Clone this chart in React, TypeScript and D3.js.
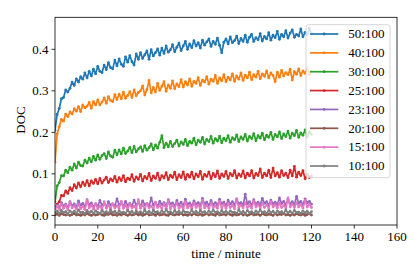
import * as d3 from 'd3';

// time axis: one reading per minute, 0..120
const minutes = d3.range(0, 121);

const series50 = [
  0.205, 0.243, 0.258, 0.281, 0.284, 0.302, 0.297, 0.306, 0.321, 0.313, 0.329, 0.321, 0.334, 0.328, 0.343, 0.331, 0.347, 0.336, 0.352, 0.341,
  0.359, 0.347, 0.344, 0.362, 0.351, 0.368, 0.356, 0.353, 0.374, 0.36, 0.377, 0.364, 0.359, 0.382, 0.369, 0.385, 0.37, 0.362, 0.389, 0.376,
  0.392, 0.378, 0.387, 0.396, 0.376, 0.399, 0.384, 0.392, 0.401, 0.386, 0.403, 0.39, 0.408, 0.393, 0.399, 0.411, 0.394, 0.405, 0.415, 0.397,
  0.408, 0.419, 0.4, 0.413, 0.404, 0.421, 0.408, 0.416, 0.403, 0.422, 0.41, 0.418, 0.425, 0.407, 0.419, 0.412, 0.427, 0.41, 0.392, 0.417,
  0.425, 0.413, 0.43, 0.416, 0.421, 0.432, 0.414, 0.426, 0.419, 0.434, 0.417, 0.429, 0.436, 0.419, 0.428, 0.423, 0.438, 0.42, 0.431, 0.425,
  0.44, 0.422, 0.434, 0.428, 0.443, 0.424, 0.436, 0.43, 0.445, 0.427, 0.439, 0.447, 0.429, 0.436, 0.432, 0.449, 0.43, 0.441, 0.435, 0.451, 0.438,
];

const series40 = [
  0.128, 0.196, 0.214, 0.231, 0.227, 0.244, 0.238, 0.249, 0.244, 0.257, 0.251, 0.262, 0.25, 0.266, 0.259, 0.263, 0.272, 0.258, 0.274, 0.266,
  0.278, 0.266, 0.273, 0.283, 0.27, 0.286, 0.277, 0.274, 0.291, 0.279, 0.292, 0.281, 0.297, 0.282, 0.289, 0.298, 0.284, 0.302, 0.288, 0.296,
  0.3, 0.312, 0.29, 0.303, 0.325, 0.295, 0.308, 0.297, 0.318, 0.301, 0.311, 0.322, 0.299, 0.314, 0.306, 0.324, 0.305, 0.317, 0.31, 0.327,
  0.309, 0.322, 0.314, 0.329, 0.311, 0.323, 0.318, 0.332, 0.313, 0.326, 0.321, 0.334, 0.316, 0.328, 0.323, 0.337, 0.318, 0.331, 0.324, 0.339,
  0.322, 0.333, 0.326, 0.341, 0.323, 0.336, 0.328, 0.343, 0.325, 0.338, 0.331, 0.345, 0.327, 0.339, 0.333, 0.347, 0.329, 0.341, 0.335, 0.348,
  0.331, 0.343, 0.337, 0.322, 0.345, 0.333, 0.349, 0.336, 0.344, 0.339, 0.352, 0.326, 0.346, 0.34, 0.353, 0.337, 0.348, 0.342, 0.355, 0.339, 0.347,
];

const series30 = [
  0.032, 0.071, 0.079, 0.096, 0.095, 0.109, 0.103, 0.116, 0.109, 0.124, 0.114, 0.128, 0.12, 0.119, 0.133, 0.126, 0.138, 0.129, 0.142, 0.133,
  0.146, 0.135, 0.144, 0.149, 0.137, 0.153, 0.143, 0.14, 0.157, 0.146, 0.158, 0.148, 0.162, 0.149, 0.155, 0.164, 0.151, 0.166, 0.153, 0.16,
  0.165, 0.154, 0.168, 0.157, 0.163, 0.172, 0.158, 0.17, 0.162, 0.176, 0.192, 0.163, 0.174, 0.165, 0.178, 0.166, 0.173, 0.181, 0.167, 0.177,
  0.171, 0.183, 0.168, 0.178, 0.174, 0.186, 0.17, 0.181, 0.176, 0.188, 0.172, 0.183, 0.178, 0.19, 0.174, 0.185, 0.179, 0.191, 0.175, 0.186,
  0.18, 0.192, 0.176, 0.187, 0.182, 0.194, 0.178, 0.189, 0.183, 0.195, 0.179, 0.19, 0.185, 0.197, 0.18, 0.192, 0.186, 0.198, 0.182, 0.193,
  0.188, 0.2, 0.183, 0.195, 0.189, 0.201, 0.185, 0.196, 0.19, 0.203, 0.186, 0.198, 0.192, 0.205, 0.188, 0.199, 0.193, 0.206, 0.189, 0.201, 0.195,
];

const series25 = [
  0.018, 0.027, 0.033, 0.048, 0.047, 0.059, 0.053, 0.067, 0.06, 0.074, 0.066, 0.078, 0.069, 0.08, 0.072, 0.084, 0.071, 0.083, 0.077, 0.087,
  0.076, 0.089, 0.078, 0.085, 0.092, 0.079, 0.088, 0.083, 0.094, 0.08, 0.091, 0.084, 0.096, 0.081, 0.09, 0.086, 0.098, 0.082, 0.093, 0.087,
  0.099, 0.083, 0.094, 0.088, 0.101, 0.084, 0.095, 0.089, 0.102, 0.085, 0.096, 0.09, 0.103, 0.086, 0.097, 0.091, 0.104, 0.086, 0.098, 0.091,
  0.105, 0.087, 0.099, 0.092, 0.104, 0.088, 0.1, 0.093, 0.106, 0.087, 0.099, 0.094, 0.105, 0.088, 0.101, 0.093, 0.107, 0.089, 0.1, 0.094,
  0.106, 0.089, 0.101, 0.095, 0.108, 0.09, 0.1, 0.094, 0.107, 0.09, 0.102, 0.095, 0.108, 0.09, 0.101, 0.096, 0.112, 0.091, 0.102, 0.095,
  0.109, 0.091, 0.114, 0.095, 0.103, 0.092, 0.108, 0.096, 0.102, 0.091, 0.109, 0.095, 0.118, 0.092, 0.104, 0.096, 0.108, 0.088, 0.099, 0.091, 0.095,
];

const series23 = [
  0.02, 0.024, 0.018, 0.031, 0.022, 0.027, 0.019, 0.033, 0.023, 0.028, 0.02, 0.035, 0.024, 0.029, 0.021, 0.038, 0.025, 0.03, 0.021, 0.027,
  0.022, 0.036, 0.024, 0.029, 0.02, 0.033, 0.025, 0.028, 0.022, 0.04, 0.026, 0.03, 0.021, 0.034, 0.024, 0.029, 0.022, 0.037, 0.025, 0.031,
  0.022, 0.035, 0.026, 0.029, 0.021, 0.042, 0.025, 0.03, 0.023, 0.034, 0.026, 0.031, 0.022, 0.038, 0.027, 0.03, 0.023, 0.036, 0.025, 0.032,
  0.023, 0.039, 0.026, 0.03, 0.024, 0.035, 0.027, 0.031, 0.023, 0.041, 0.027, 0.032, 0.024, 0.036, 0.026, 0.031, 0.024, 0.039, 0.028, 0.032,
  0.024, 0.037, 0.027, 0.033, 0.025, 0.04, 0.028, 0.031, 0.024, 0.051, 0.028, 0.033, 0.025, 0.038, 0.027, 0.032, 0.025, 0.041, 0.029, 0.033,
  0.025, 0.037, 0.028, 0.032, 0.026, 0.042, 0.029, 0.034, 0.025, 0.039, 0.028, 0.033, 0.026, 0.046, 0.029, 0.034, 0.026, 0.04, 0.03, 0.034, 0.027,
];

const series20 = [
  0.001, 0.003, 0.0, 0.004, 0.002, 0.001, 0.003, 0.0, 0.002, 0.004, 0.001, 0.002, 0.0, 0.003, 0.001, 0.005, 0.002, 0.0, 0.003, 0.001,
  0.002, 0.004, 0.001, 0.0, 0.003, 0.002, 0.005, 0.001, 0.002, 0.0, 0.003, 0.001, 0.004, 0.002, 0.0, 0.003, 0.001, 0.002, 0.004, 0.001,
  0.003, 0.0, 0.002, 0.005, 0.001, 0.002, 0.003, 0.0, 0.004, 0.001, 0.002, 0.003, 0.001, 0.0, 0.004, 0.002, 0.001, 0.003, 0.002, 0.005,
  0.001, 0.002, 0.0, 0.003, 0.001, 0.004, 0.002, 0.001, 0.003, 0.0, 0.002, 0.004, 0.001, 0.003, 0.002, 0.0, 0.005, 0.001, 0.002, 0.003,
  0.001, 0.004, 0.002, 0.0, 0.003, 0.001, 0.002, 0.005, 0.001, 0.003, 0.0, 0.002, 0.004, 0.001, 0.002, 0.003, 0.0, 0.004, 0.002, 0.001,
  0.003, 0.002, 0.0, 0.004, 0.001, 0.003, 0.002, 0.005, 0.001, 0.002, 0.0, 0.003, 0.001, 0.004, 0.002, 0.001, 0.003, 0.0, 0.002, 0.004, 0.001,
];

const series15 = [
  0.015, 0.022, 0.014, 0.028, 0.017, 0.024, 0.013, 0.031, 0.018, 0.023, 0.015, 0.027, 0.016, 0.021, 0.014, 0.036, 0.018, 0.024, 0.015, 0.029,
  0.016, 0.022, 0.014, 0.033, 0.017, 0.025, 0.015, 0.028, 0.018, 0.023, 0.016, 0.034, 0.017, 0.024, 0.015, 0.027, 0.018, 0.022, 0.016, 0.038,
  0.017, 0.025, 0.016, 0.029, 0.018, 0.023, 0.015, 0.032, 0.019, 0.024, 0.016, 0.028, 0.017, 0.036, 0.016, 0.025, 0.018, 0.03, 0.017, 0.023,
  0.016, 0.033, 0.018, 0.024, 0.017, 0.029, 0.019, 0.025, 0.016, 0.037, 0.018, 0.024, 0.017, 0.03, 0.019, 0.023, 0.017, 0.034, 0.018, 0.026,
  0.017, 0.029, 0.019, 0.024, 0.016, 0.039, 0.019, 0.025, 0.018, 0.031, 0.019, 0.024, 0.017, 0.035, 0.02, 0.026, 0.018, 0.029, 0.019, 0.025,
  0.018, 0.033, 0.02, 0.026, 0.018, 0.03, 0.019, 0.025, 0.018, 0.042, 0.02, 0.027, 0.019, 0.031, 0.02, 0.026, 0.018, 0.036, 0.02, 0.027, 0.019,
];

const series10 = [
  0.006, 0.01, 0.004, 0.012, 0.007, 0.009, 0.003, 0.011, 0.006, 0.01, 0.005, 0.013, 0.007, 0.008, 0.004, 0.012, 0.006, 0.01, 0.005, 0.011,
  0.007, 0.004, 0.012, 0.006, 0.009, 0.005, 0.013, 0.007, 0.01, 0.004, 0.011, 0.006, 0.008, 0.005, 0.012, 0.007, 0.01, 0.004, 0.011, 0.006,
  0.009, 0.005, 0.013, 0.006, 0.01, 0.004, 0.012, 0.007, 0.009, 0.005, 0.011, 0.006, 0.014, 0.007, 0.009, 0.004, 0.012, 0.006, 0.01, 0.005,
  0.011, 0.007, 0.008, 0.005, 0.013, 0.006, 0.01, 0.004, 0.012, 0.007, 0.009, 0.005, 0.011, 0.006, 0.013, 0.007, 0.009, 0.004, 0.012, 0.006,
  0.01, 0.005, 0.011, 0.007, 0.008, 0.005, 0.014, 0.006, 0.01, 0.004, 0.012, 0.007, 0.009, 0.005, 0.011, 0.006, 0.013, 0.007, 0.009, 0.005,
  0.012, 0.006, 0.01, 0.004, 0.011, 0.007, 0.009, 0.005, 0.013, 0.006, 0.01, 0.005, 0.012, 0.007, 0.008, 0.005, 0.011, 0.006, 0.01, 0.004, 0.009,
];

const labels = ['50:100', '40:100', '30:100', '25:100', '23:100', '20:100', '15:100', '10:100'];
const allSeries = [series50, series40, series30, series25, series23, series20, series15, series10];
const colors = ['#1f77b4', '#ff7f0e', '#2ca02c', '#d62728', '#9467bd', '#8c564b', '#e377c2', '#7f7f7f'];

const xTicks = [0, 20, 40, 60, 80, 100, 120, 140, 160];
const yTicks = [0.0, 0.1, 0.2, 0.3, 0.4];

const W = 415;
const H = 277;
const plot = { left: 55, right: 397, top: 17.3, bottom: 225 };
const txt = { fontFamily: "'Liberation Serif', 'Times New Roman', serif", fontSize: '13px', fill: '#000' };

export default function App() {
  const x = d3.scaleLinear().domain([0, 160]).range([plot.left, plot.right]);
  const y = d3.scaleLinear().domain([-0.0231, 0.4771]).range([plot.bottom, plot.top]);

  const line = d3
    .line<number>()
    .x((_, i) => x(minutes[i]))
    .y((d) => y(d));

  const legendX = 306;
  const legendY = 24.7;
  const rowH = 18.86;

  return (
    <svg width={W} height={H} style={{ position: 'absolute', left: 0, top: 0, background: '#fff' }}>
      <defs>
        <clipPath id="plotClip">
          <rect x={plot.left} y={plot.top} width={plot.right - plot.left} height={plot.bottom - plot.top} />
        </clipPath>
      </defs>

      {/* series */}
      <g clipPath="url(#plotClip)">
        {allSeries.map((s, k) => (
          <g key={labels[k]}>
            <path d={line(s) ?? ''} fill="none" stroke={colors[k]} strokeWidth={1.7} strokeLinejoin="round" />
            {s.map((v, i) => (
              <circle key={i} cx={x(minutes[i])} cy={y(v)} r={1.4} fill={colors[k]} />
            ))}
          </g>
        ))}
      </g>

      {/* spines */}
      <rect
        x={plot.left}
        y={plot.top}
        width={plot.right - plot.left}
        height={plot.bottom - plot.top}
        fill="none"
        stroke="#000"
        strokeWidth={0.8}
      />

      {/* x axis */}
      {xTicks.map((t) => (
        <g key={`x${t}`}>
          <line x1={x(t)} x2={x(t)} y1={plot.bottom} y2={plot.bottom + 3.5} stroke="#000" strokeWidth={0.8} />
          <text x={x(t)} y={240.5} textAnchor="middle" style={txt}>
            {t}
          </text>
        </g>
      ))}
      <text x={(plot.left + plot.right) / 2} y={258} textAnchor="middle" style={txt}>
        time / minute
      </text>

      {/* y axis */}
      {yTicks.map((t) => (
        <g key={`y${t}`}>
          <line x1={plot.left - 3.5} x2={plot.left} y1={y(t)} y2={y(t)} stroke="#000" strokeWidth={0.8} />
          <text x={48.5} y={y(t)} dy="0.33em" textAnchor="end" style={txt}>
            {t.toFixed(1)}
          </text>
        </g>
      ))}
      <text transform="translate(25,120) rotate(-90)" textAnchor="middle" style={txt}>
        DOC
      </text>

      {/* legend */}
      <rect
        x={legendX}
        y={legendY}
        width={84}
        height={153}
        rx={2.5}
        fill="#fff"
        fillOpacity={0.8}
        stroke="#cccccc"
        strokeWidth={0.8}
      />
      {labels.map((lab, k) => {
        const cy = 34 + k * rowH;
        return (
          <g key={`leg${lab}`}>
            <line x1={310} x2={338.3} y1={cy} y2={cy} stroke={colors[k]} strokeWidth={1.7} />
            <circle cx={324.2} cy={cy} r={1.4} fill={colors[k]} />
            <text x={348.3} y={cy} dy="0.33em" style={txt}>
              {lab}
            </text>
          </g>
        );
      })}
    </svg>
  );
}
